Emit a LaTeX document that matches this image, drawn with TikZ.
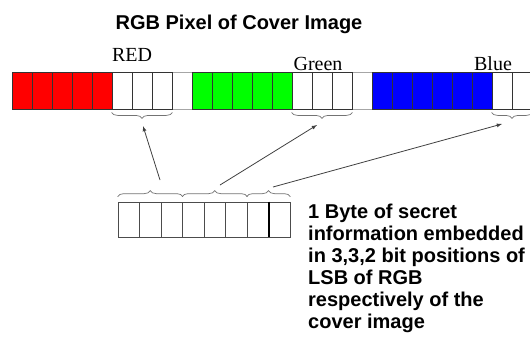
\documentclass[tikz,border=0pt]{standalone}
\usepackage{fontspec}
\setmainfont{Liberation Serif}
\setsansfont{Liberation Sans}
\usetikzlibrary{positioning,decorations.pathreplacing,arrows}

\begin{document}
\begin{tikzpicture}[x=1pt, y=-1pt, every node/.style={inner sep=0pt},
  bit/.style={rectangle, draw=black!80, line width=0.8pt, minimum width=20pt, minimum height=37pt},
  secbit/.style={rectangle, draw=black!70, line width=0.7pt, minimum width=21.5pt, minimum height=35pt},
  grp/.style={draw=black!55, line width=0.7pt, decorate, decoration={brace, amplitude=6pt}},
  link/.style={draw=black!75, line width=0.8pt, -latex}]
\useasboundingbox (0,0) rectangle (530,341);

\node[font=\sffamily\bfseries\fontsize{20}{24}\selectfont, anchor=base] (title) at (239,29) {RGB Pixel of Cover Image};

% pixel strip
\draw[black!35] (12,72) rectangle (545,109);
\foreach \i in {1,...,5} \node[bit, fill=red] (r\i) at ({2+20*\i},90.5) {};
\foreach \i in {6,7,8} \node[bit, fill=white] (r\i) at ({2+20*\i},90.5) {};
\foreach \i in {1,...,5} \node[bit, fill=green] (g\i) at ({182+20*\i},90.5) {};
\foreach \i in {6,7,8} \node[bit, fill=white] (g\i) at ({182+20*\i},90.5) {};
\foreach \i in {1,...,6} \node[bit, fill=blue] (b\i) at ({362+20*\i},90.5) {};
\foreach \i in {7,8} \node[bit, fill=white] (b\i) at ({362+20*\i},90.5) {};

\node[font=\fontsize{20}{24}\selectfont, anchor=base] (redlbl) at (132,61) {RED};
\node[font=\fontsize{20}{24}\selectfont, anchor=base] (greenlbl) at (318,70) {Green};
\node[font=\fontsize{20}{24}\selectfont, anchor=base] (bluelbl) at (493,70) {Blue};

\draw[grp] ([yshift=-3pt]r8.south east) -- ([yshift=-3pt]r6.south west);
\draw[grp] ([yshift=-3pt]g8.south east) -- ([yshift=-3pt]g6.south west);
\draw[grp] ([yshift=-3pt]b8.south east) -- ([yshift=-3pt]b7.south west);

% secret byte
\foreach \i in {1,...,8} \node[secbit] (s\i) at ({107.25+21.5*\i},219.5) {};
\draw[line width=1.3pt] (s7.north east) -- (s7.south east);

\draw[grp] ([yshift=5pt]s1.north west) -- ([yshift=5pt]s3.north east);
\draw[grp] ([yshift=5pt]s4.north west) -- ([yshift=5pt]s6.north east);
\draw[grp] ([yshift=5pt]s7.north west) -- ([yshift=5pt]s8.north east);

\coordinate (fromR) at (160,180);
\coordinate (fromG) at (220,185);
\coordinate (fromB) at (273,187);
\coordinate (toR) at (143,126);
\coordinate (toG) at (317,125);
\coordinate (toB) at (502,124);

\draw[link] (fromR) -- (toR);
\draw[link] (fromG) -- (toG);
\draw[link] (fromB) -- (toB);

\node[font=\sffamily\bfseries\fontsize{20}{22}\selectfont, anchor=north west, align=left] (note) at (308,203.5)
  {1 Byte of secret\\information embedded\\in 3,3,2 bit positions of\\LSB of RGB\\respectively of the\\cover image};
\end{tikzpicture}
\end{document}
